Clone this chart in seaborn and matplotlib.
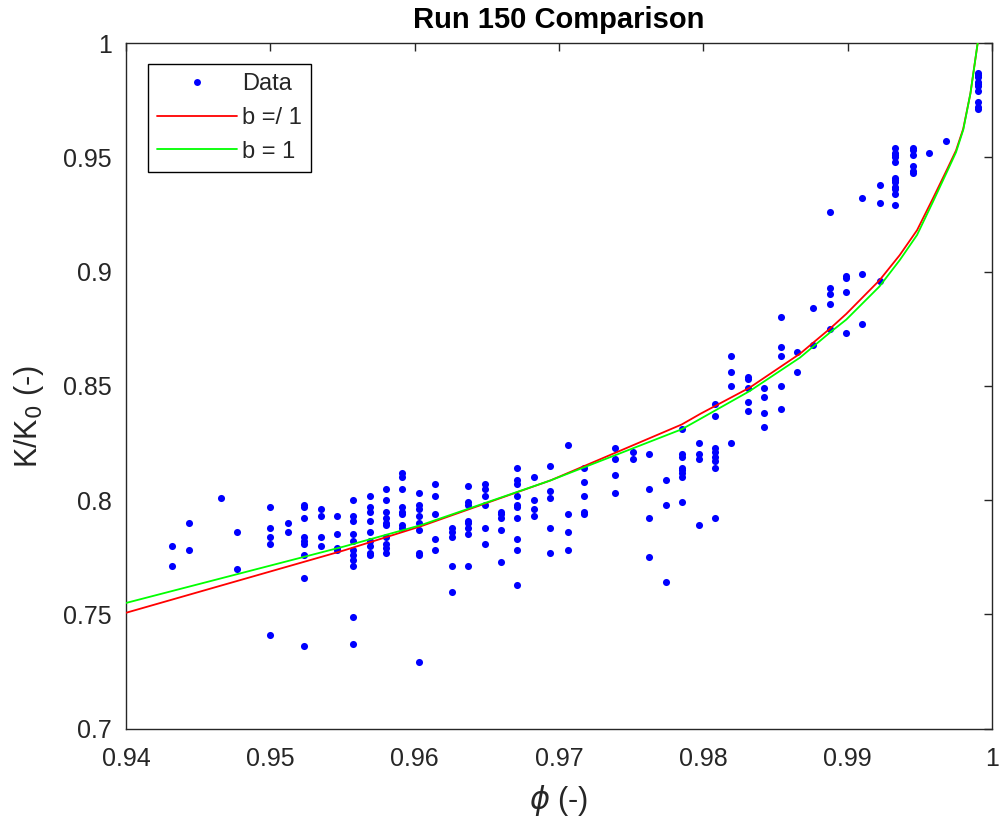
import numpy as np
import pandas as pd
import matplotlib
matplotlib.use("Agg")
import matplotlib.pyplot as plt
import seaborn as sns
from matplotlib.lines import Line2D

# ---------------- data ----------------
phi_columns = [0.9432, 0.9444, 0.9466, 0.9477, 0.9500, 0.9512, 0.9523, 0.9535,
               0.9546, 0.9557, 0.9569, 0.9580, 0.9591, 0.9603, 0.9614, 0.9626,
               0.9637, 0.9649, 0.9660, 0.9671, 0.9683, 0.9694, 0.9706, 0.9717,
               0.9739, 0.9751, 0.9762, 0.9774, 0.9785, 0.9797, 0.9808, 0.9819,
               0.9831, 0.9842, 0.9854, 0.9865, 0.9876, 0.9888, 0.9899, 0.9910,
               0.9922, 0.9933, 0.9945, 0.9956, 0.9968, 0.9990]

k_by_column = [
    [0.780, 0.771],
    [0.790, 0.778],
    [0.801],
    [0.786, 0.770],
    [0.797, 0.788, 0.784, 0.781, 0.741],
    [0.790, 0.786],
    [0.798, 0.797, 0.792, 0.784, 0.782, 0.781, 0.776, 0.766, 0.736],
    [0.796, 0.793, 0.784, 0.780],
    [0.793, 0.785, 0.779, 0.778],
    [0.800, 0.793, 0.791, 0.785, 0.782, 0.778, 0.776, 0.774, 0.771, 0.749, 0.737],
    [0.802, 0.797, 0.795, 0.791, 0.786, 0.782, 0.780, 0.777, 0.776],
    [0.805, 0.800, 0.795, 0.792, 0.790, 0.789, 0.784, 0.781, 0.779, 0.777],
    [0.812, 0.810, 0.805, 0.797, 0.795, 0.794, 0.789, 0.788],
    [0.803, 0.798, 0.796, 0.793, 0.790, 0.787, 0.777, 0.776, 0.729],
    [0.807, 0.802, 0.794, 0.783, 0.778],
    [0.788, 0.786, 0.784, 0.771, 0.760],
    [0.806, 0.799, 0.798, 0.791, 0.790, 0.788, 0.785, 0.771],
    [0.807, 0.805, 0.802, 0.798, 0.788, 0.781],
    [0.795, 0.794, 0.792, 0.787, 0.773],
    [0.814, 0.809, 0.807, 0.802, 0.798, 0.797, 0.792, 0.783, 0.778, 0.763],
    [0.810, 0.800, 0.796, 0.793],
    [0.815, 0.804, 0.801, 0.788, 0.777],
    [0.824, 0.794, 0.786, 0.778],
    [0.814, 0.808, 0.802, 0.795, 0.794],
    [0.823, 0.818, 0.811, 0.803],
    [0.821, 0.818],
    [0.820, 0.805, 0.792, 0.775],
    [0.809, 0.798, 0.764],
    [0.831, 0.820, 0.819, 0.814, 0.813, 0.812, 0.810, 0.799],
    [0.825, 0.820, 0.818, 0.789],
    [0.842, 0.837, 0.823, 0.821, 0.819, 0.817, 0.814, 0.792],
    [0.863, 0.856, 0.850, 0.825],
    [0.854, 0.853, 0.849, 0.843, 0.839],
    [0.849, 0.845, 0.838, 0.832],
    [0.880, 0.867, 0.863, 0.850, 0.840],
    [0.865, 0.856],
    [0.884, 0.868],
    [0.926, 0.893, 0.890, 0.886, 0.875],
    [0.898, 0.897, 0.891, 0.873],
    [0.932, 0.899, 0.877],
    [0.938, 0.930, 0.896],
    [0.954, 0.952, 0.951, 0.950, 0.948, 0.941, 0.940, 0.939, 0.937, 0.936, 0.934, 0.929],
    [0.954, 0.953, 0.951, 0.946, 0.944, 0.943],
    [0.952],
    [0.957],
    [0.987, 0.986, 0.985, 0.983, 0.982, 0.981, 0.979, 0.974, 0.972, 0.971],
]

phi_fit = [0.9400, 0.9551, 0.9604, 0.9694, 0.9785, 0.9798, 0.9832, 0.9867, 0.9888,
           0.9899, 0.9922, 0.9936, 0.9948, 0.9959, 0.9969, 0.9975, 0.9980, 0.9985, 0.9990]
k_fit_b_free = [0.7507, 0.7780, 0.7885, 0.8086, 0.8331, 0.8378, 0.8492, 0.8641, 0.8752,
                0.8815, 0.8962, 0.9072, 0.9181, 0.9320, 0.9450, 0.9530, 0.9625, 0.9780, 1.0000]
k_fit_b_one = [0.7550, 0.7797, 0.7890, 0.8086, 0.8310, 0.8356, 0.8477, 0.8624, 0.8735,
               0.8790, 0.8935, 0.9050, 0.9160, 0.9305, 0.9440, 0.9522, 0.9620, 0.9780, 1.0000]

x_ticks = [0.94, 0.95, 0.96, 0.97, 0.98, 0.99, 1.00]
x_tick_labels = ["0.94", "0.95", "0.96", "0.97", "0.98", "0.99", "1"]
y_ticks = [0.70, 0.75, 0.80, 0.85, 0.90, 0.95, 1.00]
y_tick_labels = ["0.7", "0.75", "0.8", "0.85", "0.9", "0.95", "1"]

legend_labels = ["Data", "b =/ 1", "b = 1"]

# ---------------- build table ----------------
rows_phi, rows_k = [], []
for p, ks in zip(phi_columns, k_by_column):
    for k in ks:
        rows_phi.append(p)
        rows_k.append(k)
df = pd.DataFrame({"phi": rows_phi, "K": rows_k})
fit_df = pd.DataFrame({"phi": phi_fit, "red": k_fit_b_free, "green": k_fit_b_one})

# ---------------- style ----------------
sns.set_theme(style="white")
plt.rcParams["font.family"] = ["Liberation Sans", "DejaVu Sans"]
dark = "#262626"

fig = plt.figure(figsize=(9.99, 8.18), dpi=100)
ax = fig.add_axes([0.1261, 0.1092, 0.8670, 0.8382])

sns.scatterplot(data=df, x="phi", y="K", ax=ax, color="#0000FF", s=26,
                linewidth=0, marker="o", zorder=2, legend=False)
sns.lineplot(data=fit_df, x="phi", y="red", ax=ax, color="#FF0000", lw=1.3,
             estimator=None, sort=False, zorder=3, legend=False)
sns.lineplot(data=fit_df, x="phi", y="green", ax=ax, color="#00FF00", lw=1.3,
             estimator=None, sort=False, zorder=3, legend=False)

ax.set_xlim(0.94, 1.0)
ax.set_ylim(0.7, 1.0)
ax.set_xticks(x_ticks)
ax.set_xticklabels(x_tick_labels)
ax.set_yticks(y_ticks)
ax.set_yticklabels(y_tick_labels)

for s in ax.spines.values():
    s.set_visible(True)
    s.set_color(dark)
    s.set_linewidth(1.0)

ax.tick_params(axis="both", which="both", direction="in", top=True, right=True,
               length=6, width=1, color=dark, labelcolor=dark, labelsize=18)
ax.tick_params(axis="x", pad=13)
ax.tick_params(axis="y", pad=10)

ax.set_xlabel(r"$\phi$ (-)", fontsize=22, color=dark, labelpad=9)
ax.set_ylabel(r"K/K$_0$ (-)", fontsize=22, color=dark)
ax.yaxis.set_label_coords(-0.092, 0.455)
ax.set_title("Run 150 Comparison", fontsize=21, fontweight="bold", color="black", pad=11)

handles = [
    Line2D([], [], linestyle="none", marker="o", markersize=5, color="#0000FF",
           markeredgewidth=0),
    Line2D([], [], color="#FF0000", lw=1.3),
    Line2D([], [], color="#00FF00", lw=1.3),
]
leg = ax.legend(handles, legend_labels, loc="upper left",
                bbox_to_anchor=(0.0254, 0.9694), borderaxespad=0,
                fontsize=17, handlelength=3.4, handletextpad=0.2,
                frameon=True, fancybox=False, framealpha=1, edgecolor="black",
                borderpad=0.38, labelspacing=0.5)
leg.get_frame().set_linewidth(1.0)

fig.savefig("out.png", dpi=100, facecolor="white")
